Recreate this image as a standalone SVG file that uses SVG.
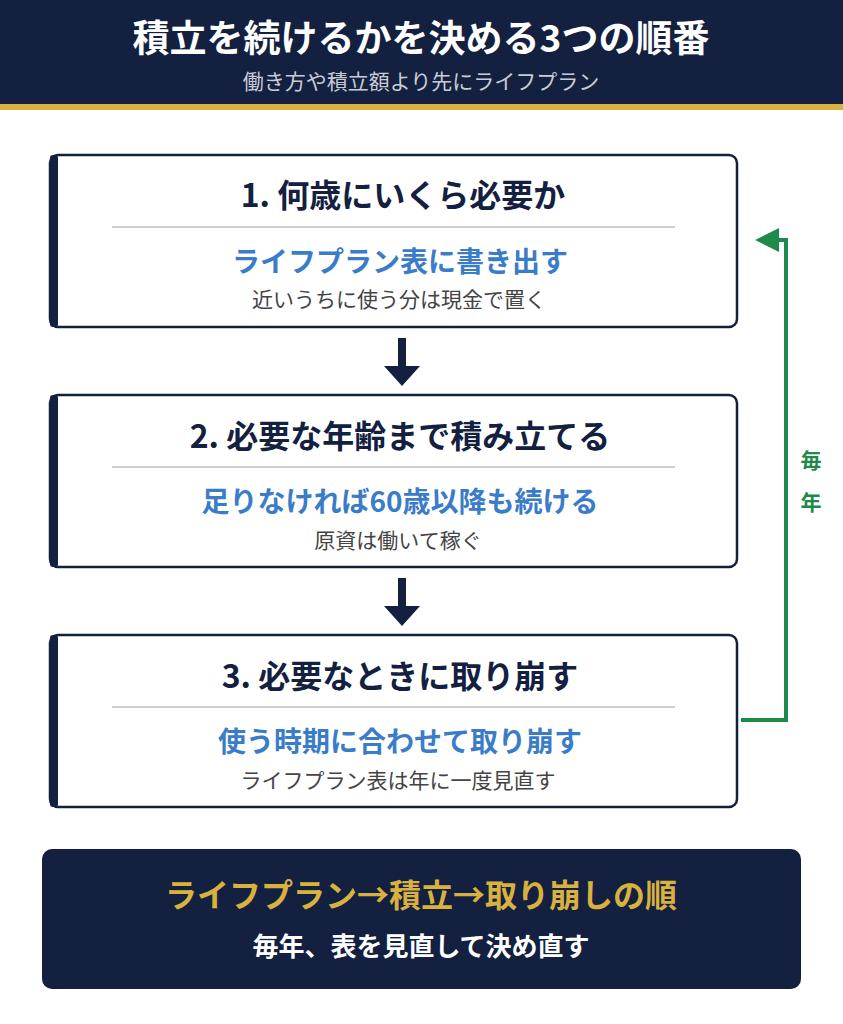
<svg xmlns="http://www.w3.org/2000/svg" width="843" height="1024" viewBox="0 0 843 1024">
<style>
text{font-family:"Noto Sans CJK JP","Noto Sans",sans-serif;text-anchor:middle}
.card{fill:#fff;stroke:#13203f;stroke-width:2.5}
.bar{fill:#13203f}
.t{font-size:32px;font-weight:700;fill:#13203f}
.b{font-size:28px;font-weight:700;fill:#3b7cc9}
.g{font-size:21px;fill:#444}
.div{stroke:#cfcfcf;stroke-width:2}
</style>
<defs>
<marker id="ah" viewBox="0 0 10 10" refX="8" refY="5" markerWidth="6" markerHeight="6" orient="auto" markerUnits="strokeWidth"><path d="M0,0L10,5L0,10z" fill="#1e8a4a"/></marker>
</defs>
<rect width="843" height="1024" fill="#fff"/>
<g id="header">
<rect x="0" y="0" width="843" height="105" fill="#13203f"/>
<rect x="0" y="104" width="843" height="6" fill="#d8b13f"/>
<text x="421" y="52" font-size="37" font-weight="700" fill="#fff">積立を続けるかを決める3つの順番</text>
<text x="421" y="89" font-size="21" fill="#c9ccd6">働き方や積立額より先にライフプラン</text>
</g>
<g id="card1">
<rect class="card" x="50" y="155" width="687" height="172" rx="8"/>
<rect class="bar" x="50" y="155" width="8" height="172" rx="3"/>
<text class="t" x="403" y="207">1. 何歳にいくら必要か</text>
<line class="div" x1="112" y1="227" x2="675" y2="227"/>
<text class="b" x="400" y="272">ライフプラン表に書き出す</text>
<text class="g" x="399" y="307">近いうちに使う分は現金で置く</text>
</g>
<g id="card2">
<rect class="card" x="50" y="395" width="687" height="172" rx="8"/>
<rect class="bar" x="50" y="395" width="8" height="172" rx="3"/>
<text class="t" x="400" y="448">2. 必要な年齢まで積み立てる</text>
<line class="div" x1="112" y1="467" x2="675" y2="467"/>
<text class="b" x="400" y="512">足りなければ60歳以降も続ける</text>
<text class="g" x="398" y="548">原資は働いて稼ぐ</text>
</g>
<g id="card3">
<rect class="card" x="50" y="635" width="687" height="172" rx="8"/>
<rect class="bar" x="50" y="635" width="8" height="172" rx="3"/>
<text class="t" x="400" y="688">3. 必要なときに取り崩す</text>
<line class="div" x1="112" y1="707" x2="675" y2="707"/>
<text class="b" x="400" y="752">使う時期に合わせて取り崩す</text>
<text class="g" x="398" y="788">ライフプラン表は年に一度見直す</text>
</g>
<g id="connectors">
<path d="M398,338V366H384L402,386L420,366H406V338z" fill="#13203f"/>
<path d="M398,578V606H384L402,626L420,606H406V578z" fill="#13203f"/>
<polyline points="741,720 786,720 786,240 760,240" fill="none" stroke="#1e8a4a" stroke-width="4" marker-end="url(#ah)"/>
<text x="811" y="468" font-size="21" font-weight="700" fill="#1e8a4a">毎</text>
<text x="811" y="510" font-size="21" font-weight="700" fill="#1e8a4a">年</text>
</g>
<g id="summary">
<rect x="42" y="849" width="759" height="140" rx="10" fill="#13203f"/>
<text x="421" y="907" font-size="32" font-weight="700" fill="#d8b13f">ライフプラン→積立→取り崩しの順</text>
<text x="421" y="956" font-size="26" font-weight="700" fill="#fff">毎年、表を見直して決め直す</text>
</g>
</svg>
